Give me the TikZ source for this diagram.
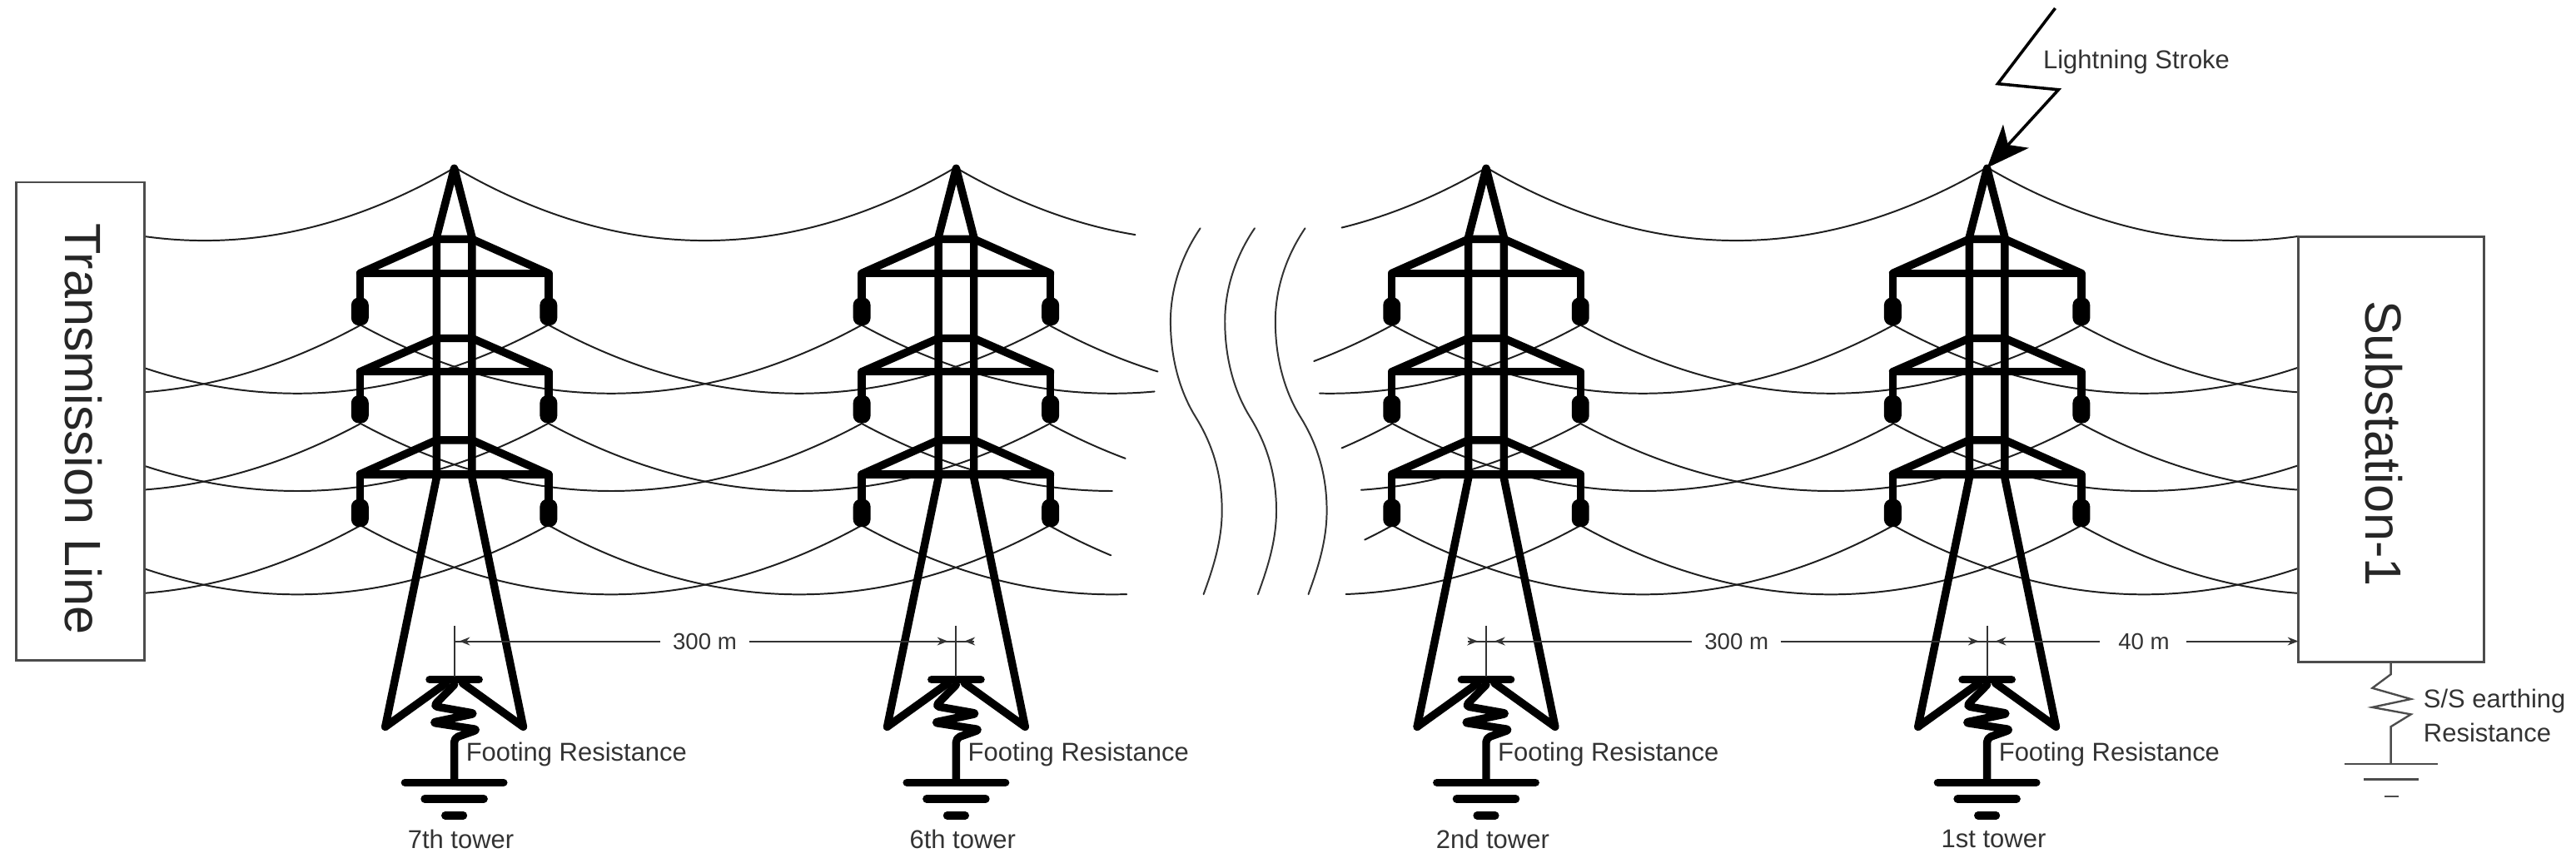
\documentclass[tikz,border=0pt]{standalone}
\usepackage{fontspec}
\setmainfont{Liberation Sans}
\usetikzlibrary{arrows.meta}
\definecolor{ink}{HTML}{333333}
\tikzset{
  wire/.style={line width=1.0pt,draw=black!88,line cap=round},
  thick tower/.style={line width=4.8pt,line join=round,line cap=round,draw=black},
  label text/.style={text=ink,font=\fontsize{15.7}{19}\selectfont,inner sep=0pt},
  dim text/.style={text=ink,font=\fontsize{14}{17}\selectfont,inner sep=0pt},
  big text/.style={text=black!85,font=\fontsize{31}{36}\selectfont,inner sep=0pt,rotate=-90},
  dim/.style={line width=1.0pt,draw=ink},
  dimarrow/.style={dim,-{Stealth[length=6.5pt,width=5pt]}},
  box/.style={line width=1.4pt,draw=black!70,fill=white},
  thin part/.style={line width=1.2pt,draw=black!70}
}
% xs, xe, xmid, ybottom, sag
\newcommand{\wireseg}[5]{\draw[wire] plot[domain=#1:#2,samples=40,smooth] (\x,{#4-#5*((\x-#3)/152.4)*((\x-#3)/152.4)});}
\newcommand{\breakcurve}[1]{\begin{scope}[xshift=#1pt]
  \draw[line width=1.0pt,draw=black!80,line cap=round] (730.6,139) .. controls (719,156) and (712.5,176) .. (712.5,195.6) .. controls (712.5,220) and (719,240) .. (728,254.3) .. controls (737,269) and (743.8,287) .. (743.8,311) .. controls (743.8,330) and (738,347) .. (732.6,361.9);
\end{scope}}
\newcommand{\insul}[2]{\fill[rounded corners=4.6pt] (#1-5.3,#2-8.5) rectangle (#1+5.3,#2+8.5);}
\newcommand{\arm}[3]{% short y, long y, insulator y
  \draw[thick tower] (-57.4,#3-8) -- (-57.4,#2) -- (57.4,#2) -- (57.4,#3-8);
  \draw[thick tower] (-57.4,#2) -- (-10.8,#1) -- (10.8,#1) -- (57.4,#2);
  \insul{-57.4}{#3}\insul{57.4}{#3}}
\newcommand{\tower}[3]{\begin{scope}[xshift=#1pt]
  \draw[thick tower] (-42,442.6) -- (-10.8,291) -- (-10.8,144.5) -- (0,102.5) -- (10.8,144.5) -- (10.8,291) -- (42,442.6) -- (5,416);
  \draw[thick tower] (-42,442.6) -- (-5,416);
  \arm{145.6}{166.4}{189.7}
  \arm{206}{226.4}{249.2}
  \arm{268}{288.8}{312.4}
  \draw[thick tower] (-15,413.9) -- (15,413.9);
  \draw[thick tower,rounded corners=2.5pt] (0,417) -- (-12.7,430) -- (12.7,434.5) -- (-13.5,440) -- (14.4,444.3) -- (0,449.4) -- (0,476.5);
  \draw[thick tower] (-30,476.5) -- (30,476.5);
  \draw[thick tower] (-18,486.5) -- (18,486.5);
  \draw[thick tower] (-5.5,496.6) -- (5.5,496.6);
  \draw[dim] (0,381) -- (0,412);
  \node[label text,anchor=west] (foot#2) at (7,459.5) {Footing Resistance};
  \node[label text] (lab#2) at (4,511) {#3};
\end{scope}}
\begin{document}
\begin{tikzpicture}[x=1pt,y=-1pt]
\useasboundingbox (0,0) rectangle (1568,525.5);
\fill[white] (0,0) rectangle (1568,525.5);

% top earth wire
\wireseg{88}{276.5}{124.5}{146.5}{44.5}
\wireseg{276.5}{582}{429.25}{146.5}{44.5}
\wireseg{582}{691}{734}{146.5}{44.5}
\wireseg{816.7}{904.6}{752.6}{146.5}{44.5}
\wireseg{904.6}{1209.5}{1057}{146.5}{44.5}
\wireseg{1209.5}{1399}{1362}{146.5}{44.5}

% phase wires: level 2
\wireseg{88}{219.1}{67}{239.6}{41.6}
\wireseg{88}{333.9}{181}{239.6}{41.6}
\wireseg{219.1}{524.6}{372}{239.6}{41.6}
\wireseg{333.9}{639.4}{486.5}{239.6}{41.6}
\wireseg{524.6}{702.7}{677}{239.6}{41.6}
\wireseg{639.4}{704.7}{791}{239.6}{41.6}
\wireseg{799.8}{847.2}{695}{239.6}{41.6}
\wireseg{803.2}{962}{809.6}{239.6}{41.6}
\wireseg{847.2}{1152.1}{1000}{239.6}{41.6}
\wireseg{962}{1266.9}{1114.5}{239.6}{41.6}
\wireseg{1152.1}{1399}{1305}{239.6}{41.6}
\wireseg{1266.9}{1399}{1419}{239.6}{41.6}

% level 3
\wireseg{88}{219.1}{67}{299}{41}
\wireseg{88}{333.9}{181}{299}{41}
\wireseg{219.1}{524.6}{372}{299}{41}
\wireseg{333.9}{639.4}{486.5}{299}{41}
\wireseg{524.6}{677}{677}{299}{41}
\wireseg{639.4}{685}{791}{299}{41}
\wireseg{816.7}{847.2}{695}{299}{41}
\wireseg{828.5}{962}{809.6}{299}{41}
\wireseg{847.2}{1152.1}{1000}{299}{41}
\wireseg{962}{1266.9}{1114.5}{299}{41}
\wireseg{1152.1}{1399}{1305}{299}{41}
\wireseg{1266.9}{1399}{1419}{299}{41}

% level 4
\wireseg{88}{219.1}{67}{362}{42}
\wireseg{88}{333.9}{181}{362}{42}
\wireseg{219.1}{524.6}{372}{362}{42}
\wireseg{333.9}{639.4}{486.5}{362}{42}
\wireseg{524.6}{685.8}{677}{362}{42}
\wireseg{639.4}{676.2}{791}{362}{42}
\wireseg{830.7}{847.2}{695}{362}{42}
\wireseg{819.3}{962}{809.6}{362}{42}
\wireseg{847.2}{1152.1}{1000}{362}{42}
\wireseg{962}{1266.9}{1114.5}{362}{42}
\wireseg{1152.1}{1399}{1305}{362}{42}
\wireseg{1266.9}{1399}{1419}{362}{42}

% break marks
\breakcurve{0}
\breakcurve{33.1}
\breakcurve{63.8}

% towers
\tower{276.5}{seven}{7th tower}
\tower{582}{six}{6th tower}
\tower{904.6}{two}{2nd tower}
\tower{1209.5}{one}{1st tower}

% boxes
\draw[box] (10,111) rectangle (88,402);
\node[big text] (tl) at (51,261.4) {Transmission Line};
\draw[box] (1399,144) rectangle (1512,403);
\node[big text] (ss) at (1451,270) {Substation-1};

% dimensions
\node[dim text] (m1) at (429,390.5) {300 m};
\node[dim text] (m2) at (1057,390.5) {300 m};
\node[dim text] (m3) at (1305,390.5) {40 m};
\coordinate (d7) at (276.5,390.5);
\coordinate (d6) at (582,390.5);
\coordinate (d2) at (904.6,390.5);
\coordinate (d1) at (1209.5,390.5);
\coordinate (dS) at (1399,390.5);
\draw[dim] (402,390.5) -- (d7);
\draw[dimarrow] (402,390.5) -- ([xshift=3pt]d7);
\draw[dim] (456,390.5) -- (d6);
\draw[dimarrow] (456,390.5) -- ([xshift=-5pt]d6);
\draw[dim] ([xshift=11pt]d6) -- (d6);
\draw[dimarrow] ([xshift=11pt]d6) -- ([xshift=5pt]d6);
\draw[dim] (1030,390.5) -- (d2);
\draw[dimarrow] (1030,390.5) -- ([xshift=5pt]d2);
\draw[dim] ([xshift=-11pt]d2) -- (d2);
\draw[dimarrow] ([xshift=-11pt]d2) -- ([xshift=-5pt]d2);
\draw[dim] (1084,390.5) -- (d1);
\draw[dimarrow] (1084,390.5) -- ([xshift=-5pt]d1);
\draw[dim] (1278,390.5) -- (d1);
\draw[dimarrow] (1278,390.5) -- ([xshift=5pt]d1);
\draw[dimarrow] (1331,390.5) -- (dS);

% lightning
\coordinate (ltop) at (1251,5);
\coordinate (ltip) at (1209.5,102.2);
\draw[line width=1.8pt,draw=black,line join=miter,-{Stealth[length=26pt,width=21pt,inset=7pt]}] (ltop) -- (1216,51) -- (1253,54.6) -- (ltip);
\node[label text,anchor=west] (ls) at (1243.5,37.5) {Lightning Stroke};

% substation earthing
\draw[thin part] (1455.3,403) -- (1455.3,410.6) -- (1444,419) -- (1467.5,425.7) -- (1444,430.7) -- (1467.5,435) -- (1455.3,442.5) -- (1455.3,465.3);
\draw[thin part] (1427,465.3) -- (1484,465.3);
\draw[thin part] (1439,474.6) -- (1472,474.6);
\draw[thin part] (1451.6,485) -- (1460,485);
\node[label text,anchor=west] (se1) at (1475,427) {S/S earthing};
\node[label text,anchor=west] (se2) at (1475,446) {Resistance};
\end{tikzpicture}
\end{document}
